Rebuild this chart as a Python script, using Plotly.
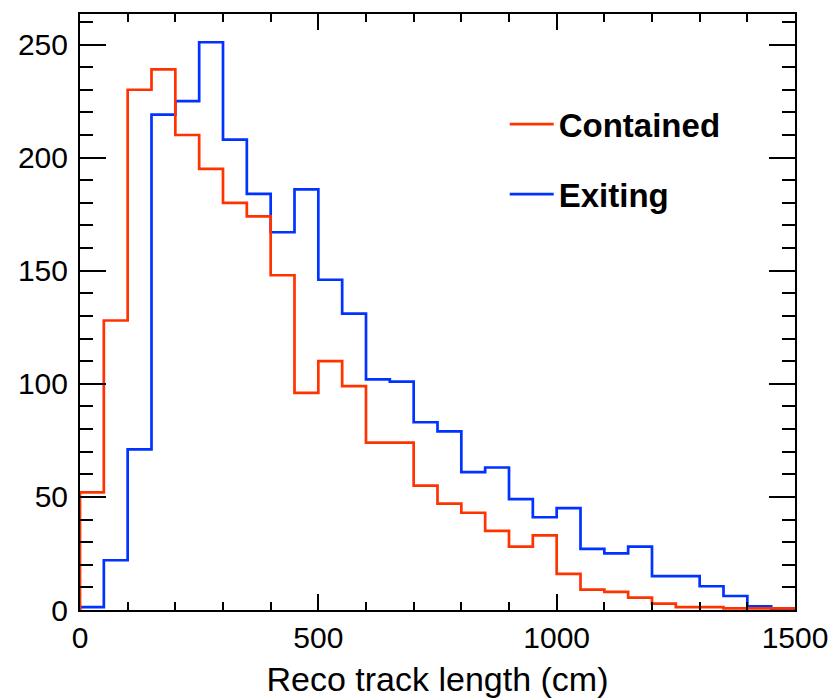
import plotly.graph_objects as go

# Histogram bins (cm): 30 bins of 50 cm from 0 to 1500
bin_edges = list(range(0, 1501, 50))
contained = [52, 128, 230, 239, 210, 195, 180, 174, 148, 96,
             110, 99, 74, 74, 55, 47, 43, 35, 28, 33,
             16, 9, 8, 5.5, 2.8, 1.3, 1.3, 0.7, 0.7, 0.7]
exiting = [1.3, 22, 71, 219, 225, 251, 208, 184, 167, 186,
           146, 131, 102, 101, 83, 79, 61, 63, 49, 41,
           45, 27, 25, 28, 15, 15, 10.5, 6.2, 1.6, 0]

x_ticks = [0, 500, 1000, 1500]
y_ticks = [0, 50, 100, 150, 200, 250]

RED = "#ff3300"
BLUE = "#0033ff"
FONT = "Liberation Sans, Arial, Helvetica, sans-serif"


def step_xy(edges, vals):
    xs = [edges[0]] + list(edges)
    ys = [0] + list(vals) + [vals[-1]]
    return xs, ys


fig = go.Figure()
for name, vals, col, rank in [("Exiting", exiting, BLUE, 2), ("Contained", contained, RED, 1)]:
    xs, ys = step_xy(bin_edges, vals)
    fig.add_trace(go.Scatter(
        x=xs, y=ys, mode="lines", name=name, line=dict(color=col, width=2.7, shape="hv"),
        legendgroup=name, legendrank=rank, hoverinfo="skip",
    ))

fig.update_layout(
    width=834, height=698,
    margin=dict(l=80, r=39, t=14, b=88),
    paper_bgcolor="white", plot_bgcolor="white",
    font=dict(family=FONT, color="black"),
    showlegend=True,
    legend=dict(
        x=0.594, y=0.862, xanchor="left", yanchor="top",
        bgcolor="rgba(0,0,0,0)", borderwidth=0,
        font=dict(size=33, family=FONT, weight="bold", color="black"),
        tracegroupgap=24, itemwidth=44,
    ),
)

fig.update_xaxes(
    range=[0, 1500], tickvals=x_ticks, ticks="inside", ticklen=16, tickwidth=1.5,
    tickcolor="black", showline=True, linewidth=2, linecolor="black", mirror="allticks",
    showgrid=False, zeroline=False, tickfont=dict(size=30, family=FONT), automargin=False,
    minor=dict(dtick=100, ticks="inside", ticklen=8, tickwidth=1.5, tickcolor="black", showgrid=False),
    title=dict(text="Reco track length (cm)", font=dict(size=34, family=FONT), standoff=14),
)
fig.update_yaxes(
    range=[0, 263.5], tickvals=y_ticks, ticks="inside", ticklen=26, tickwidth=1.5,
    tickcolor="black", showline=True, linewidth=2, linecolor="black", mirror="allticks",
    showgrid=False, zeroline=False, tickfont=dict(size=30, family=FONT), automargin=False,
    minor=dict(dtick=10, ticks="inside", ticklen=13, tickwidth=1.5, tickcolor="black", showgrid=False),
    ticklabelstandoff=4,
)

fig.write_html("out.html")
